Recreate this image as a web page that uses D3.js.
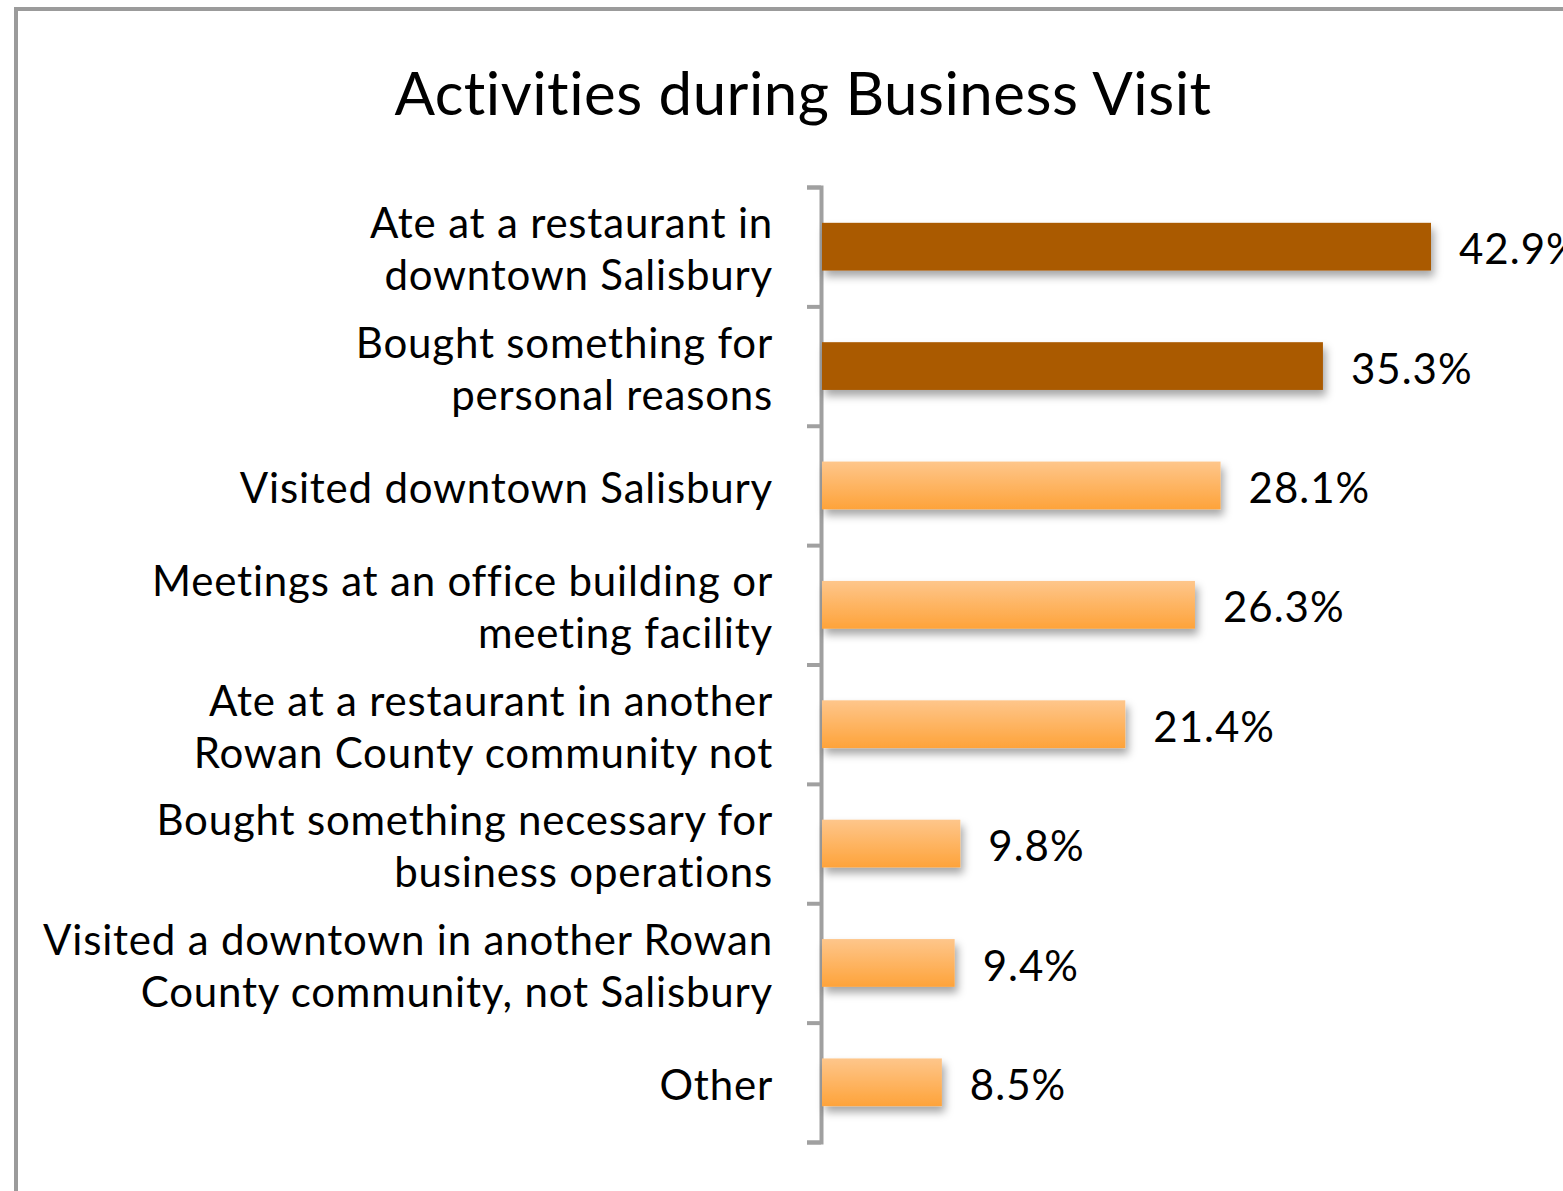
<!DOCTYPE html>
<html>
<head>
<meta charset="utf-8">
<script src="https://cdn.jsdelivr.net/npm/d3@7"></script>
<style>
  body { margin: 0; background: #fff; }
  text { font-family: Lato, "Open Sans", sans-serif; fill: #000; }
</style>
</head>
<body>
<svg id="chart"></svg>
<script>
// chart data
const title = 'Activities during Business Visit';
const categories = [
  'Ate at a restaurant in\ndowntown Salisbury',
  'Bought something for\npersonal reasons',
  'Visited downtown Salisbury',
  'Meetings at an office building or\nmeeting facility',
  'Ate at a restaurant in another\nRowan County community not',
  'Bought something necessary for\nbusiness operations',
  'Visited a downtown in another Rowan\nCounty community, not Salisbury',
  'Other'
];
const values = [42.9, 35.3, 28.1, 26.3, 21.4, 9.8, 9.4, 8.5];
const highlighted = [true, true, false, false, false, false, false, false];

const width = 1563, height = 1191;
const plot = {left: 821, top: 187, bottom: 1142};

const svg = d3.select('#chart')
  .attr('width', width)
  .attr('height', height);

const defs = svg.append('defs');
const grad = defs.append('linearGradient')
  .attr('id', 'barGrad')
  .attr('x1', 0).attr('y1', 0).attr('x2', 0).attr('y2', 1);
grad.append('stop').attr('offset', '0%').attr('stop-color', '#fec68b');
grad.append('stop').attr('offset', '100%').attr('stop-color', '#fea33a');

const shadow = defs.append('filter')
  .attr('id', 'shadow')
  .attr('x', '-10%').attr('y', '-30%')
  .attr('width', '130%').attr('height', '180%');
shadow.append('feDropShadow')
  .attr('dx', 3).attr('dy', 6)
  .attr('stdDeviation', 4)
  .attr('flood-color', '#000')
  .attr('flood-opacity', 0.35);

// outer frame (runs off the right and bottom edges)
svg.append('rect')
  .attr('x', 16).attr('y', 9)
  .attr('width', width + 20).attr('height', height + 20)
  .attr('fill', 'none')
  .attr('stroke', '#9b9b9b')
  .attr('stroke-width', 4);

svg.append('text')
  .attr('x', 803).attr('y', 115)
  .attr('text-anchor', 'middle')
  .style('font-size', '60px')
  .style('letter-spacing', '0.5px')
  .text(title);

// scales
const xScale = d3.scaleLinear()
  .domain([0, 42.9])
  .range([plot.left, 1431]);

const yScale = d3.scaleBand()
  .domain(categories)
  .range([plot.top, plot.bottom])
  .paddingInner(0.6)
  .paddingOuter(0.3);

// tick marks sit between the categories
const yEdge = d3.scaleLinear()
  .domain([0, categories.length])
  .range([plot.top, plot.bottom]);

const yAxis = d3.axisLeft(yEdge)
  .tickValues(d3.range(categories.length + 1))
  .tickFormat('')
  .tickSize(14)
  .tickSizeOuter(14);

const axisG = svg.append('g')
  .attr('class', 'axis y-axis')
  .attr('transform', `translate(${plot.left},0)`)
  .call(yAxis);
axisG.selectAll('path, line')
  .attr('stroke', '#a0a0a0')
  .attr('stroke-width', 4);

const rows = categories.map((c, i) => ({cat: c, value: values[i], dark: highlighted[i]}));

svg.append('g')
  .selectAll('rect')
  .data(rows)
  .join('rect')
  .attr('x', xScale(0) + 1)
  .attr('y', d => yScale(d.cat))
  .attr('width', d => xScale(d.value) - xScale(0) - 1)
  .attr('height', yScale.bandwidth())
  .attr('fill', d => d.dark ? '#aa5a00' : 'url(#barGrad)')
  .attr('filter', 'url(#shadow)');

// value labels
svg.append('g')
  .selectAll('text')
  .data(rows)
  .join('text')
  .attr('x', d => xScale(d.value) + 28)
  .attr('y', d => yScale(d.cat) + yScale.bandwidth() / 2)
  .attr('dy', '0.42em')
  .style('font-size', '42px')
  .style('letter-spacing', '1px')
  .text(d => d.value.toFixed(1) + '%');

// category labels
const lineH = 52;
const catLabels = svg.append('g')
  .selectAll('text')
  .data(rows)
  .join('text')
  .attr('text-anchor', 'end')
  .style('font-size', '42px')
  .style('letter-spacing', '0.8px');

catLabels.each(function(d) {
  const lines = d.cat.split('\n');
  const cy = yScale(d.cat) + yScale.bandwidth() / 2;
  const y0 = cy - (lines.length - 1) * lineH / 2;
  d3.select(this).selectAll('tspan')
    .data(lines)
    .join('tspan')
    .attr('x', 773)
    .attr('y', (l, j) => y0 + j * lineH)
    .attr('dy', '0.42em')
    .text(l => l);
});
</script>
</body>
</html>
